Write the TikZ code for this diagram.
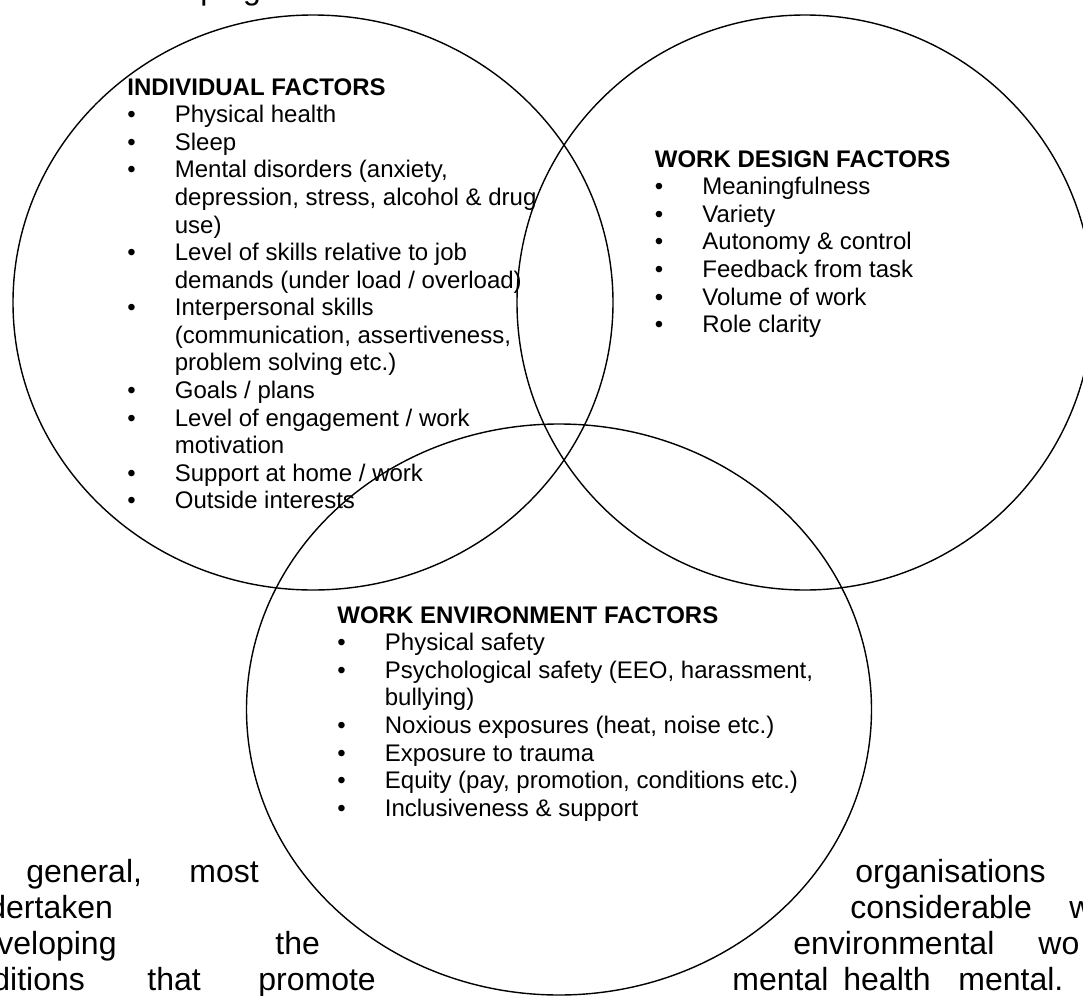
\documentclass[tikz,border=0pt]{standalone}
\usepackage{fontspec}
\setmainfont{Liberation Sans}
\usetikzlibrary{positioning,shapes.geometric}

\begin{document}
\begin{tikzpicture}[x=0.5pt, y=-0.5pt,
  venn/.style={draw, ellipse, line width=0.7pt, inner sep=0pt, outer sep=0pt},
  factors/.style={anchor=base west, inner sep=0pt, font=\fontsize{12}{13.8}\selectfont},
  bgtext/.style={anchor=base west, inner sep=0pt, font=\fontsize{16}{18}\selectfont}]
  \useasboundingbox (0,0) rectangle (1083,996);
  \clip (0,0) rectangle (1083,996);

  % the three circles
  \node[venn, minimum width=300pt, minimum height=287.5pt] (indiv) at (313,302.5) {};
  \node[venn, minimum width=288pt, minimum height=287.5pt] (design) at (805,302.5) {};
  \node[venn, minimum width=312.5pt, minimum height=285.5pt] (env) at (559,709.5) {};

  % lists
  \node[factors] (indivlist) at (127,95) {\begin{tabular}[t]{@{}p{23.75pt}@{}l@{}}
    \multicolumn{2}{@{}l@{}}{\textbf{INDIVIDUAL FACTORS}}\\
    \textbullet & Physical health\\
    \textbullet & Sleep\\
    \textbullet & Mental disorders (anxiety,\\
                & depression, stress, alcohol \& drug\\
                & use)\\
    \textbullet & Level of skills relative to job\\
                & demands (under load / overload)\\
    \textbullet & Interpersonal skills\\
                & (communication, assertiveness,\\
                & problem solving etc.)\\
    \textbullet & Goals / plans\\
    \textbullet & Level of engagement / work\\
                & motivation\\
    \textbullet & Support at home / work\\
    \textbullet & Outside interests
  \end{tabular}};

  \node[factors] (designlist) at (654.5,167) {\begin{tabular}[t]{@{}p{23.75pt}@{}l@{}}
    \multicolumn{2}{@{}l@{}}{\textbf{WORK DESIGN FACTORS}}\\
    \textbullet & Meaningfulness\\
    \textbullet & Variety\\
    \textbullet & Autonomy \& control\\
    \textbullet & Feedback from task\\
    \textbullet & Volume of work\\
    \textbullet & Role clarity
  \end{tabular}};

  \node[factors] (envlist) at (337,623) {\begin{tabular}[t]{@{}p{23.75pt}@{}l@{}}
    \multicolumn{2}{@{}l@{}}{\textbf{WORK ENVIRONMENT FACTORS}}\\
    \textbullet & Physical safety\\
    \textbullet & Psychological safety (EEO, harassment,\\
                & bullying)\\
    \textbullet & Noxious exposures (heat, noise etc.)\\
    \textbullet & Exposure to trauma\\
    \textbullet & Equity (pay, promotion, conditions etc.)\\
    \textbullet & Inclusiveness \& support
  \end{tabular}};

  % page text around the figure
  \node[bgtext] (top) at (200,-1) {ping};
  \foreach \w/\x/\y [count=\i] in {{general,}/26/882, most/189/882, organisations/855/882,
      dertaken/-12/918, considerable/850/918, w/1069/918,
      veloping/-3/954, the/275/954, environmental/793/954, wo/1038/954,
      ditions/-8/990, that/147/990, promote/258/990, mental/732/990, health/843/990, {mental.}/958/990}
    \node[bgtext] (bg\i) at (\x,\y) {\w};
\end{tikzpicture}
\end{document}
